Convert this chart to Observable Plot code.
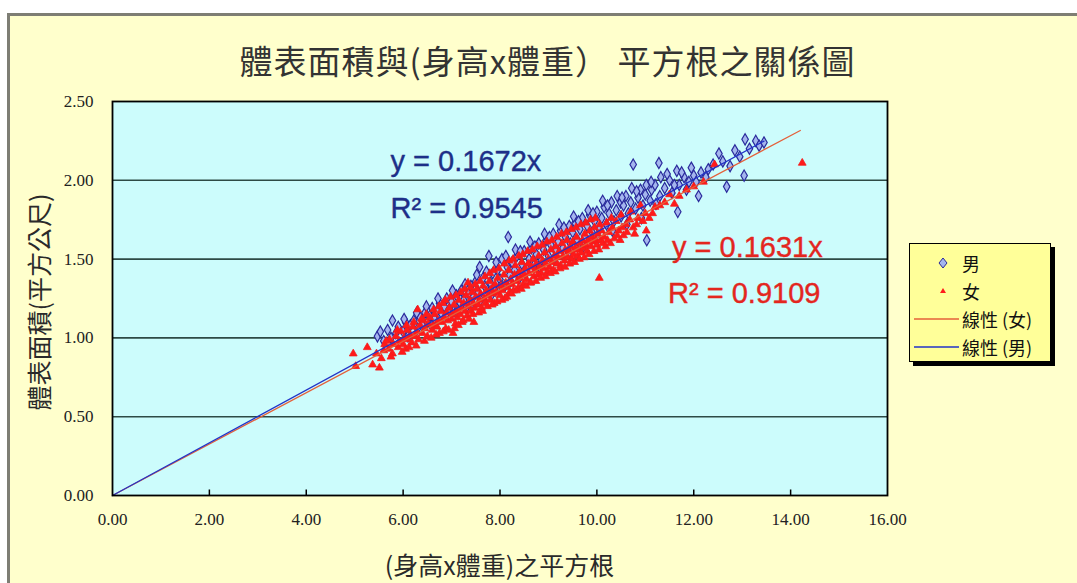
<!DOCTYPE html>
<html>
<head>
<meta charset="utf-8">
<script src="https://cdn.jsdelivr.net/npm/d3@7"></script>
<script src="https://cdn.jsdelivr.net/npm/@observablehq/plot@0.6"></script>
<style>
  html, body { margin: 0; padding: 0; background: #ffffff; }
  #wrap { position: relative; width: 1077px; height: 583px; overflow: hidden; background: #ffffff; }
  #panel { position: absolute; left: 7px; top: 13px; width: 1080px; height: 580px; background: #ffffcc;
           border-left: 3px solid #7e7e74; border-top: 3px solid #7e7e74; box-sizing: border-box; }
  #plot { position: absolute; left: 0; top: 0; }
  .title { position: absolute; left: 160px; width: 775px; top: 38px; text-align: center;
           font-family: "Noto Sans CJK TC", "Noto Sans CJK SC", sans-serif; font-size: 33px; color: #333; letter-spacing: 1px; line-height: 44px; }
  .xlabel { position: absolute; left: 112px; width: 775px; top: 548px; text-align: center;
            font-family: "Noto Sans CJK TC", sans-serif; font-size: 25px; color: #2a2a2a; line-height: 32px; }
  .ylabel { position: absolute; left: 38px; top: 302px; transform: translate(-50%, -50%) rotate(-90deg);
            white-space: nowrap; font-family: "Noto Sans CJK TC", sans-serif; font-size: 25px; color: #2a2a2a; line-height: 30px; }
  #legend { position: absolute; left: 909px; top: 243px; width: 142px; height: 119px; background: #ffff99;
            border: 1px solid #000; box-shadow: 4px 4px 0 #000; box-sizing: border-box;
            font-family: "Noto Sans CJK TC", sans-serif; font-size: 18px; color: #111; }
  #legend .row { position: absolute; left: 0; height: 26px; line-height: 26px; width: 140px; }
  #legend .row svg { position: absolute; left: 4px; top: 0; }
  #legend .row span { position: absolute; left: 52px; top: 0; }
</style>
</head>
<body>
<div id="wrap">
  <div id="panel"></div>
  <div id="plot"></div>
  <div class="title" id="title"></div>
  <div class="xlabel" id="xlabel"></div>
  <div class="ylabel" id="ylabel"></div>
  <div id="legend"></div>
</div>
<script>
// ---- text ----
const titleText = "體表面積與(身高x體重） 平方根之關係圖";
const xLabelText = "(身高x體重)之平方根";
const yLabelText = "體表面積(平方公尺)";
const seriesNames = ["男", "女", "線性 (女)", "線性 (男)"];

// ---- axis ticks ----
const xTicks = [0, 2, 4, 6, 8, 10, 12, 14, 16];
const yTicks = [0, 0.5, 1.0, 1.5, 2.0, 2.5];
const yGrid = [0.5, 1.0, 1.5, 2.0];

// ---- trendlines (through origin) ----
const maleSlope = 0.1672, maleR2 = 0.9545, maleXEnd = 13.45;
const femaleSlope = 0.1631, femaleR2 = 0.9109, femaleXEnd = 14.2;

// ---- scatter: 男 (sqrt(height*weight), body surface area) ----
const maleData = [
[5.47,1.01],[5.53,1.04],[5.6,0.98],[5.68,1.05],[5.75,1.00],[5.78,1.11],[5.85,1.03],[5.9,1.07],[6.0,1.04],[6.05,1.10],
[6.1,1.01],[6.15,1.08],[6.22,1.11],[6.3,1.06],[6.35,1.13],[6.4,1.09],[6.45,1.16],[6.5,1.10],[6.55,1.14],[6.6,1.19],
[6.65,1.12],[6.7,1.17],[6.75,1.22],[6.8,1.15],[6.85,1.20],[6.9,1.25],[6.95,1.18],[7.0,1.23],[7.05,1.17],[7.1,1.27],
[7.15,1.21],[7.2,1.30],[7.25,1.24],[7.3,1.19],[7.35,1.28],[7.4,1.33],[7.45,1.26],[7.5,1.36],[7.55,1.29],[7.6,1.24],
[7.65,1.38],[7.7,1.32],[7.77,1.52],[7.8,1.35],[7.85,1.41],[7.9,1.30],[7.95,1.43],[8.0,1.37],[8.04,1.50],[8.1,1.33],
[8.15,1.45],[8.17,1.64],[8.2,1.40],[8.25,1.48],[8.3,1.43],[8.35,1.52],[8.4,1.38],[8.45,1.47],[8.5,1.55],[8.55,1.44],
[8.6,1.50],[8.65,1.57],[8.7,1.46],[8.75,1.53],[8.8,1.60],[8.85,1.49],[8.9,1.56],[8.95,1.62],[9.0,1.52],[9.05,1.59],
[9.1,1.66],[9.15,1.55],[9.2,1.61],[9.25,1.68],[9.3,1.57],[9.35,1.64],[9.43,1.71],[9.45,1.60],[9.5,1.67],[9.55,1.73],
[9.6,1.62],[9.65,1.69],[9.7,1.76],[9.75,1.64],[9.8,1.71],[9.85,1.78],[9.9,1.67],[9.95,1.74],[10.0,1.80],[10.05,1.69],
[10.1,1.76],[10.15,1.83],[10.2,1.72],[10.25,1.79],[10.3,1.86],[10.35,1.74],[10.4,1.81],[10.49,1.86],[10.5,1.77],[10.55,1.84],
[10.6,1.90],[10.65,1.79],[10.7,1.86],[10.75,2.10],[10.8,1.82],[10.85,1.89],[10.9,1.94],[10.95,1.84],[11.0,1.91],[11.03,1.62],
[11.1,1.87],[11.13,1.94],[11.2,1.97],[11.28,2.11],[11.3,1.90],[11.4,1.95],[11.5,2.00],[11.55,1.92],[11.65,2.06],[11.67,1.80],
[11.7,1.97],[11.8,2.02],[11.9,1.99],[12.0,2.03],[12.1,1.90],[12.15,2.05],[12.3,2.07],[12.52,2.17],[12.68,1.96],[12.85,2.19],
[13.04,2.03],[13.06,2.26],[13.28,2.25],[13.35,2.22],[13.45,2.24],
[6.02,1.12],[6.28,1.16],[6.48,1.20],[6.58,1.08],[6.72,1.25],[6.88,1.14],[7.02,1.30],[7.12,1.18],[7.28,1.34],[7.42,1.22],
[7.52,1.40],[7.58,1.45],[7.72,1.42],[7.82,1.27],[7.92,1.48],[8.02,1.33],[8.12,1.52],[8.22,1.36],[8.32,1.56],[8.42,1.55],
[8.52,1.41],[8.62,1.61],[8.72,1.58],[8.82,1.45],[8.92,1.66],[9.02,1.64],[9.12,1.50],[9.22,1.72],[9.32,1.70],[9.42,1.54],
[9.52,1.77],[9.62,1.74],[9.72,1.58],[9.82,1.81],[9.92,1.79],[10.02,1.63],[10.12,1.87],[10.22,1.84],[10.32,1.68],[10.42,1.90],
[10.52,1.89],[10.62,1.72],[10.72,1.95],[10.82,1.93],[10.92,1.76],[11.02,1.97],[11.12,1.99],[11.22,1.85],[11.32,2.02],[11.45,2.04],
[11.6,1.97],[11.75,2.05],[11.85,1.94],[11.95,2.08],[12.05,1.99],[12.25,2.02],[12.4,2.10],[12.6,2.12],[12.75,2.09],[12.95,2.15],
[13.15,2.20]
];

// ---- scatter: 女 ----
const femaleData = [
[4.97,0.90],[5.02,0.82],[5.26,0.94],[5.37,0.83],[5.51,0.81],[5.45,0.90],
[5.6,0.92],[5.62,0.96],[5.7,0.93],[5.72,0.99],[5.78,0.90],[5.8,0.96],[5.85,1.01],[5.9,0.94],[5.92,0.98],[5.95,1.04],
[6.0,0.96],[6.02,1.00],[6.05,0.93],[6.08,1.05],[6.1,0.99],[6.15,1.02],[6.18,0.97],[6.2,1.07],[6.25,1.01],[6.28,1.04],
[6.3,1.18],[6.32,0.99],[6.35,1.08],[6.4,1.03],[6.42,1.11],[6.45,1.06],[6.5,1.01],[6.52,1.09],[6.55,1.13],[6.6,1.05],
[6.62,1.08],[6.65,1.15],[6.7,1.07],[6.72,1.11],[6.75,1.03],[6.78,1.17],[6.8,1.10],[6.82,1.22],[6.85,1.13],[6.88,1.06],
[6.9,1.16],[6.92,1.11],[6.95,1.19],[7.0,1.12],[7.02,1.15],[7.03,1.03],[7.05,1.21],[7.08,1.09],[7.1,1.17],[7.12,1.13],
[7.15,1.24],[7.18,1.15],[7.2,1.19],[7.22,1.10],[7.25,1.22],[7.28,1.17],[7.3,1.27],[7.32,1.14],[7.34,1.35],[7.35,1.20],
[7.38,1.24],[7.4,1.17],[7.42,1.29],[7.45,1.22],[7.46,1.10],[7.48,1.19],[7.5,1.26],[7.52,1.31],[7.55,1.21],[7.58,1.24],
[7.6,1.28],[7.62,1.19],[7.65,1.33],[7.68,1.25],[7.7,1.22],[7.72,1.30],[7.75,1.27],[7.78,1.36],[7.8,1.24],[7.82,1.31],
[7.85,1.28],[7.88,1.22],[7.9,1.34],[7.92,1.29],[7.95,1.38],[8.0,1.27],[8.02,1.33],[8.05,1.30],[8.08,1.40],[8.1,1.25],
[8.12,1.35],[8.15,1.32],[8.18,1.43],[8.2,1.29],[8.22,1.37],[8.25,1.34],[8.28,1.30],[8.3,1.40],[8.32,1.46],[8.35,1.36],
[8.38,1.32],[8.4,1.42],[8.42,1.38],[8.45,1.48],[8.48,1.34],[8.5,1.40],[8.52,1.44],[8.55,1.37],[8.58,1.47],[8.6,1.41],
[8.62,1.35],[8.65,1.45],[8.68,1.50],[8.7,1.39],[8.72,1.43],[8.75,1.47],[8.78,1.40],[8.8,1.52],[8.82,1.45],[8.85,1.41],
[8.88,1.49],[8.9,1.44],[8.92,1.54],[8.95,1.47],[8.98,1.42],[9.0,1.50],[9.02,1.45],[9.05,1.56],[9.08,1.48],[9.1,1.43],
[9.12,1.52],[9.15,1.58],[9.18,1.47],[9.2,1.51],[9.22,1.55],[9.25,1.46],[9.28,1.60],[9.3,1.52],[9.33,1.49],[9.35,1.56],
[9.38,1.62],[9.4,1.51],[9.42,1.55],[9.45,1.58],[9.48,1.50],[9.5,1.61],[9.52,1.53],[9.55,1.57],[9.58,1.64],[9.6,1.52],
[9.62,1.56],[9.65,1.60],[9.68,1.54],[9.7,1.62],[9.72,1.57],[9.75,1.66],[9.78,1.59],[9.8,1.55],[9.82,1.62],[9.85,1.68],
[9.88,1.58],[9.9,1.64],[9.92,1.61],[9.95,1.70],[9.98,1.62],[10.0,1.59],[10.02,1.66],[10.05,1.38],[10.06,1.72],[10.08,1.62],
[10.1,1.68],[10.15,1.64],[10.2,1.73],[10.25,1.67],[10.3,1.76],[10.32,1.70],[10.4,1.74],[10.45,1.68],[10.5,1.78],[10.55,1.65],
[10.6,1.72],[10.7,1.80],[10.75,1.70],[10.85,1.76],[10.9,1.84],[11.02,1.68],[11.0,1.79],[11.15,1.79],[11.3,1.84],[11.5,1.91],
[11.7,1.90],[12.0,1.96],[12.43,2.10],[14.24,2.11],
[5.55,0.87],[5.65,0.98],[5.75,0.88],[5.88,1.05],[5.98,0.91],[6.07,1.08],[6.12,0.94],[6.22,1.10],[6.27,0.95],[6.38,1.12],
[6.44,0.98],[6.48,1.15],[6.58,1.00],[6.63,1.18],[6.68,1.02],[6.74,1.20],[6.83,1.04],[6.87,1.24],[6.94,1.05],[6.98,1.26],
[7.06,1.06],[7.09,1.27],[7.14,1.08],[7.19,1.29],[7.24,1.11],[7.27,1.31],[7.36,1.12],[7.39,1.32],[7.44,1.15],[7.49,1.34],
[7.56,1.16],[7.59,1.36],[7.64,1.17],[7.69,1.39],[7.74,1.20],[7.79,1.41],[7.84,1.21],[7.87,1.43],[7.94,1.23],[7.98,1.44],
[8.04,1.24],[8.09,1.47],[8.14,1.26],[8.19,1.49],[8.24,1.28],[8.27,1.50],[8.34,1.30],[8.39,1.52],[8.44,1.31],[8.47,1.53],
[8.54,1.33],[8.57,1.55],[8.64,1.35],[8.67,1.56],[8.74,1.36],[8.77,1.58],[8.84,1.38],[8.87,1.59],[8.94,1.39],[8.97,1.61],
[9.04,1.41],[9.07,1.62],[9.14,1.42],[9.17,1.64],[9.24,1.44],[9.27,1.66],[9.34,1.45],[9.37,1.67],[9.44,1.47],[9.47,1.69],
[9.54,1.48],[9.57,1.70],[9.64,1.50],[9.67,1.72],[9.74,1.51],[9.77,1.73],[9.84,1.53],[9.87,1.75],[9.94,1.55],[9.97,1.76],
[10.04,1.56],[10.12,1.60],[10.18,1.58],[10.22,1.62],[10.28,1.60],[10.36,1.63],[10.42,1.65],[10.48,1.62],[10.52,1.70],[10.62,1.67],
[10.68,1.75],[10.78,1.66],[10.82,1.72],[10.95,1.74],[11.08,1.76],[11.2,1.83],[11.4,1.86],[11.6,1.85],[11.85,1.94],[12.2,1.99]
];

// ---- build tables ----
const male = maleData.map(([x, y]) => ({x, y}));
const female = femaleData.map(([x, y]) => ({x, y}));
const maleFit = [0, maleXEnd].map(x => ({x, y: maleSlope * x}));
const femaleFit = [0, femaleXEnd].map(x => ({x, y: femaleSlope * x}));
const eqs = [
  {x: 5.74, y: 2.056, t: `y = ${maleSlope}x`, c: "#1d2f88"},
  {x: 5.74, y: 1.758, t: `R² = ${maleR2}`, c: "#1d2f88"},
  {x: 11.55, y: 1.514, t: `y = ${femaleSlope}x`, c: "#e3261f"},
  {x: 11.47, y: 1.222, t: `R² = ${femaleR2}`, c: "#e3261f"}
];

const numFont = "'Liberation Serif', 'DejaVu Serif', serif";

const chart = Plot.plot({
  width: 1077,
  height: 583,
  marginLeft: 112,
  marginRight: 190,
  marginTop: 101,
  marginBottom: 88,
  style: {background: "transparent", overflow: "visible"},
  x: {domain: [0, 16]},
  y: {domain: [0, 2.5]},
  marks: [
    Plot.frame({fill: "#ccfcfc", stroke: null}),
    Plot.ruleY(yGrid, {stroke: "#2d4a45", strokeWidth: 1.6}),
    Plot.ruleX(xTicks.slice(1, -1), {y1: 0, y2: 0.035, stroke: "#000", strokeWidth: 1.5}),
    Plot.axisX(xTicks, {tickSize: 0, tickPadding: 17, tickFormat: d => d.toFixed(2), label: null,
      fontSize: 17, fontFamily: numFont, fill: "#222"}),
    Plot.axisY(yTicks, {tickSize: 0, tickPadding: 19, tickFormat: d => d.toFixed(2), label: null,
      fontSize: 17, fontFamily: numFont, fill: "#222"}),
    Plot.dot(male, {x: "x", y: "y", symbol: "diamond", r: 3.4, fill: "#a4b6ee", stroke: "#2a2a9c", strokeWidth: 1.2}),
    Plot.dot(female, {x: "x", y: "y", symbol: "triangle", r: 2.9, fill: "#ff1a1a", stroke: "#f41c1c", strokeWidth: 0.8}),
    Plot.line(femaleFit, {x: "x", y: "y", stroke: "#e4603a", strokeWidth: 1.3}),
    Plot.line(maleFit, {x: "x", y: "y", stroke: "#2233c8", strokeWidth: 1.3}),
    Plot.text(eqs, {x: "x", y: "y", text: "t", fill: "c", fontSize: 29, fontFamily: "Arial, 'Liberation Sans', sans-serif",
      textAnchor: "start", lineAnchor: "bottom", letterSpacing: "1px", stroke: "c", strokeWidth: 0.4}),
    Plot.frame({stroke: "#000", strokeWidth: 1.8, fill: "none"})
  ]
});
document.getElementById("plot").appendChild(chart);

document.getElementById("title").textContent = titleText;
document.getElementById("xlabel").textContent = xLabelText;
document.getElementById("ylabel").textContent = yLabelText;

// ---- legend ----
const legend = document.getElementById("legend");
const legendItems = [
  {name: seriesNames[0], kind: "diamond"},
  {name: seriesNames[1], kind: "triangle"},
  {name: seriesNames[2], kind: "line", color: "#e4603a"},
  {name: seriesNames[3], kind: "line", color: "#2233c8"}
];
legendItems.forEach((it, i) => {
  const row = document.createElement("div");
  row.className = "row";
  row.style.top = (6 + i * 28) + "px";
  let sym = "";
  if (it.kind === "diamond") sym = `<path d="M29,8 L33,13 L29,18 L25,13 Z" fill="#a4b6ee" stroke="#2a2a9c" stroke-width="1"/>`;
  else if (it.kind === "triangle") sym = `<path d="M29,10 L32,15 L26,15 Z" fill="#ff1c1c"/>`;
  else sym = `<line x1="0" x2="45" y1="13" y2="13" stroke="${it.color}" stroke-width="1.5"/>`;
  row.innerHTML = `<svg width="48" height="26">${sym}</svg><span>${it.name}</span>`;
  legend.appendChild(row);
});
</script>
</body>
</html>
